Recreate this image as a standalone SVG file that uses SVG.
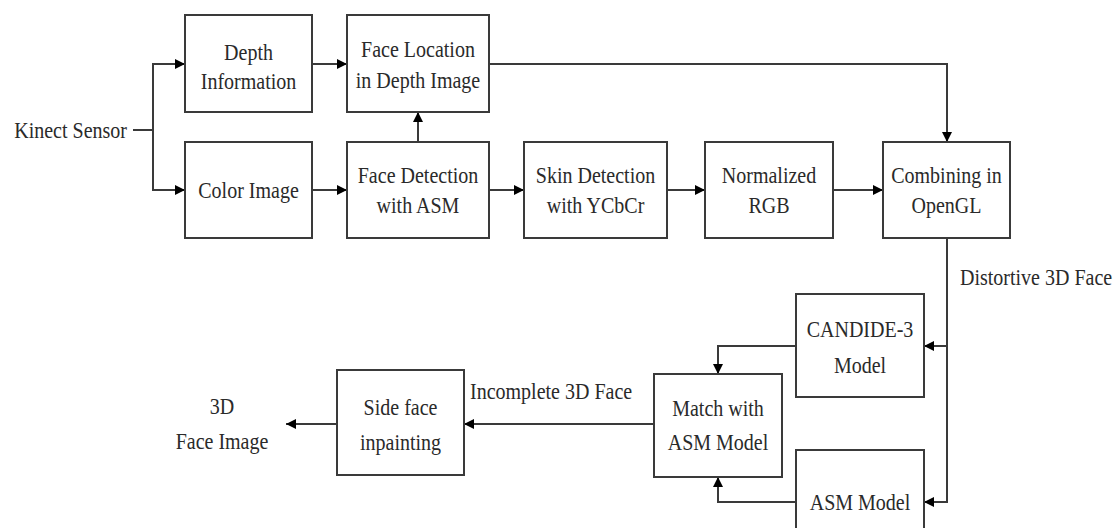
<svg xmlns="http://www.w3.org/2000/svg" width="1116" height="528" viewBox="0 0 1116 528">
<style>
.box{fill:#fff;stroke:#3a3a3a;stroke-width:2}
.t{font-family:"Liberation Serif",serif;font-size:23px;fill:#2a2a2a;text-anchor:middle}
.s{text-anchor:start}
.e{text-anchor:end}
.c{fill:none;stroke:#3a3a3a;stroke-width:2}
</style>
<defs>
<marker id="ah" viewBox="0 0 10 10" refX="10" refY="5" markerWidth="10" markerHeight="10" markerUnits="userSpaceOnUse" orient="auto">
<path d="M0,0 L10,5 L0,10 Z" fill="#000"/>
</marker>
</defs>
<rect width="1116" height="528" fill="#fff"/>
<g id="connectors">
<path class="c" d="M133,130 H153"/>
<path class="c" d="M153,130 V64 H185" marker-end="url(#ah)"/>
<path class="c" d="M153,130 V190 H185" marker-end="url(#ah)"/>
<path class="c" d="M312,64 H347" marker-end="url(#ah)"/>
<path class="c" d="M312,190 H347" marker-end="url(#ah)"/>
<path class="c" d="M418,142 V112" marker-end="url(#ah)"/>
<path class="c" d="M489,190 H524" marker-end="url(#ah)"/>
<path class="c" d="M667,190 H705" marker-end="url(#ah)"/>
<path class="c" d="M833,190 H883" marker-end="url(#ah)"/>
<path class="c" d="M489,64 H947 V142" marker-end="url(#ah)"/>
<path class="c" d="M947,238 V346 H924" marker-end="url(#ah)"/>
<path class="c" d="M947,346 V502 H924" marker-end="url(#ah)"/>
<path class="c" d="M796,346 H718 V374" marker-end="url(#ah)"/>
<path class="c" d="M796,502 H718 V477" marker-end="url(#ah)"/>
<path class="c" d="M654,424 H464" marker-end="url(#ah)"/>
<path class="c" d="M337,424 H286" marker-end="url(#ah)"/>
<text class="t e" transform="translate(127,138) scale(0.87,1)">Kinect Sensor</text>
<text class="t s" transform="translate(960,285) scale(0.87,1)">Distortive 3D Face</text>
<text class="t s" transform="translate(470,399) scale(0.87,1)">Incomplete 3D Face</text>
</g>
<g id="depth"><rect class="box" x="185" y="15" width="127" height="97"/>
<text class="t" transform="translate(248.5,60) scale(0.87,1)">Depth</text><text class="t" transform="translate(248.5,89) scale(0.87,1)">Information</text></g>
<g id="color"><rect class="box" x="185" y="142" width="127" height="96"/>
<text class="t" transform="translate(248.5,198) scale(0.87,1)">Color Image</text></g>
<g id="faceloc"><rect class="box" x="347" y="15" width="142" height="97"/>
<text class="t" transform="translate(418,57) scale(0.87,1)">Face Location</text><text class="t" transform="translate(418,88) scale(0.87,1)">in Depth Image</text></g>
<g id="facedet"><rect class="box" x="347" y="142" width="142" height="96"/>
<text class="t" transform="translate(418,183) scale(0.87,1)">Face Detection</text><text class="t" transform="translate(418,213) scale(0.87,1)">with ASM</text></g>
<g id="skin"><rect class="box" x="524" y="142" width="143" height="96"/>
<text class="t" transform="translate(595.5,183) scale(0.87,1)">Skin Detection</text><text class="t" transform="translate(595.5,213) scale(0.87,1)">with YCbCr</text></g>
<g id="norm"><rect class="box" x="705" y="142" width="128" height="96"/>
<text class="t" transform="translate(769,183) scale(0.87,1)">Normalized</text><text class="t" transform="translate(769,213) scale(0.87,1)">RGB</text></g>
<g id="combine"><rect class="box" x="883" y="142" width="127" height="96"/>
<text class="t" transform="translate(946.5,183) scale(0.87,1)">Combining in</text><text class="t" transform="translate(946.5,213) scale(0.87,1)">OpenGL</text></g>
<g id="candide"><rect class="box" x="796" y="294" width="128" height="103"/>
<text class="t" transform="translate(860,337) scale(0.87,1)">CANDIDE-3</text><text class="t" transform="translate(860,373) scale(0.87,1)">Model</text></g>
<g id="asm"><rect class="box" x="796" y="450" width="128" height="104"/>
<text class="t" transform="translate(860,510) scale(0.87,1)">ASM Model</text></g>
<g id="match"><rect class="box" x="654" y="374" width="128" height="103"/>
<text class="t" transform="translate(718,416) scale(0.87,1)">Match with</text><text class="t" transform="translate(718,450) scale(0.87,1)">ASM Model</text></g>
<g id="sideface"><rect class="box" x="337" y="370" width="127" height="105"/>
<text class="t" transform="translate(400.5,415) scale(0.87,1)">Side face</text><text class="t" transform="translate(400.5,450) scale(0.87,1)">inpainting</text></g>
<g id="output">
<text class="t" transform="translate(222,414) scale(0.87,1)">3D</text><text class="t" transform="translate(222,449) scale(0.87,1)">Face Image</text></g>
</svg>
